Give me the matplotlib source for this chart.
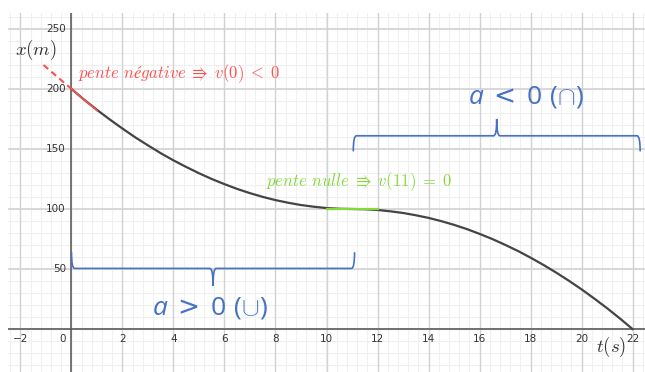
import numpy as np
import matplotlib
matplotlib.use("Agg")
import matplotlib.pyplot as plt
from matplotlib.path import Path
from matplotlib.patches import PathPatch

plt.rcParams['mathtext.it'] = 'Open Sans:italic'
plt.rcParams['mathtext.rm'] = 'Open Sans'
plt.rcParams['mathtext.sf'] = 'DejaVu Sans'

# position x(t)
t_vals = [0, 0.5, 1, 1.5, 2, 2.5, 3, 3.5, 4, 4.5, 5, 5.5, 6, 6.5, 7, 7.5, 8, 8.5, 9, 9.5, 10, 10.5, 11,
          11.5, 12, 12.5, 13, 13.5, 14, 14.5, 15, 15.5, 16, 16.5, 17, 17.5, 18, 18.5, 19, 19.5, 20, 20.5, 21, 21.5, 22]
x_vals = [200, 191, 182.6, 174.6, 167, 159.7, 153, 146.5, 140.5, 135, 129.8, 125, 120.7, 116.7, 113.2, 110.1,
          107.4, 105.2, 103.3, 101.9, 100.8, 100.2, 100,
          99.8, 99.2, 98.1, 96.7, 94.8, 92.6, 89.9, 86.8, 83.3, 79.3, 75, 70.2, 65.1, 59.5, 53.5, 47.1, 40.3,
          33.1, 25.4, 17.4, 8.9, 0]

# tangent at t=0 (red) and flat part near t=11 (green)
tan_dash_t = [-1.1, 0]
tan_dash_x = [220, 200]
tan_solid_t = [0, 1.0]
tan_solid_x = [200, 182]
flat_t = [10, 12]
flat_x = [100, 100]

# intervals for the braces
conv_span = [0, 11.1]
conc_span = [11.05, 22.3]

xticks = [-2, 2, 4, 6, 8, 10, 12, 14, 16, 18, 20, 22]
yticks = [50, 100, 150, 200, 250]

blue = '#4472c4'
red = '#ff5050'
green = '#86d93a'

fig = plt.figure(figsize=(6.45, 3.72), dpi=100)
ax = fig.add_axes([8 / 645, 0, 637 / 645, 359 / 372])
ax.set_xlim(-2.49, 22.49)
ax.set_ylim(-35.8, 263.3)
ax.axis('off')

# grid
for v in np.arange(-2.4, 22.5, 0.4):
    ax.axvline(v, color='#f0f0f0', lw=0.8, zorder=0)
for v in np.arange(-30, 263, 10):
    ax.axhline(v, color='#f0f0f0', lw=0.8, zorder=0)
for v in range(-2, 23, 2):
    ax.axvline(v, color='#d2d2d2', lw=1, zorder=0.5)
for v in range(0, 263, 50):
    ax.axhline(v, color='#d2d2d2', lw=1.2, zorder=0.5)
ax.axhline(0, color='#555555', lw=1.1, zorder=1)
ax.axvline(0, color='#555555', lw=1.1, zorder=1)

for v in xticks:
    ax.text(v, -8.5, str(v).replace('-', '\u2212'), ha='center', va='center', fontsize=7.5, color='#333333')
ax.text(-0.35, -8.5, '0', ha='center', va='center', fontsize=7.5, color='#333333')
for v in yticks:
    ax.text(-0.22, v, str(v), ha='right', va='center', fontsize=7.5, color='#333333')

ax.plot(t_vals, x_vals, color='#444444', lw=1.6, zorder=3)
ax.plot(tan_dash_t, tan_dash_x, color=red, lw=1.5, ls=(0, (3, 2)), zorder=4)
ax.plot(tan_solid_t, tan_solid_x, color=red, lw=1.2, zorder=4)
ax.plot(flat_t, flat_x, color=green, lw=1.6, zorder=4)


def brace(t0, t1, y, hook, tip):
    # curly brace: ends bend by `hook`, middle cusp by `tip`
    m = (t0 + t1) / 2
    d = 0.12
    verts = [(t0, y + hook), (t0, y), (t0 + d, y),
             (m - d, y), (m, y), (m, y - tip),
             (m, y), (m + d, y),
             (t1 - d, y), (t1, y), (t1, y + hook)]
    codes = [Path.MOVETO, Path.CURVE3, Path.CURVE3,
             Path.LINETO, Path.CURVE3, Path.CURVE3,
             Path.CURVE3, Path.CURVE3,
             Path.LINETO, Path.CURVE3, Path.CURVE3]
    ax.add_patch(PathPatch(Path(verts, codes), fill=False, ec=blue, lw=1.2, zorder=5))


brace(conv_span[0], conv_span[1], 50.5, 13.5, 14.5)
brace(conc_span[0], conc_span[1], 161, -13, -14)

ax.text(5.43, 17.5, r'$a\;\mathsf{>}\;0\ (\cup)$', ha='center', va='center', fontsize=19, color=blue,
        math_fontfamily='custom')
ax.text(17.8, 193, r'$a\;\mathsf{<}\;0\ (\cap)$', ha='center', va='center', fontsize=19, color=blue,
        math_fontfamily='custom')

ax.text(0.25, 213, r'$pente\ négative\;\Rrightarrow\; v(0)\;<\;0$', ha='left', va='center',
        fontsize=12, color=red, math_fontfamily='cm')
ax.text(7.63, 123, r'$pente\ nulle\;\Rrightarrow\; v(11)\;=\;0$', ha='left', va='center',
        fontsize=12, color=green, math_fontfamily='cm')

ax.text(-1.4, 232.5, r'$x(m)$', ha='center', va='center', fontsize=13.5, color='#333333', math_fontfamily='cm')
ax.text(21.15, -15, r'$t(s)$', ha='center', va='center', fontsize=13.5, color='#333333', math_fontfamily='cm')

fig.savefig('out.png', dpi=100, facecolor='white')
